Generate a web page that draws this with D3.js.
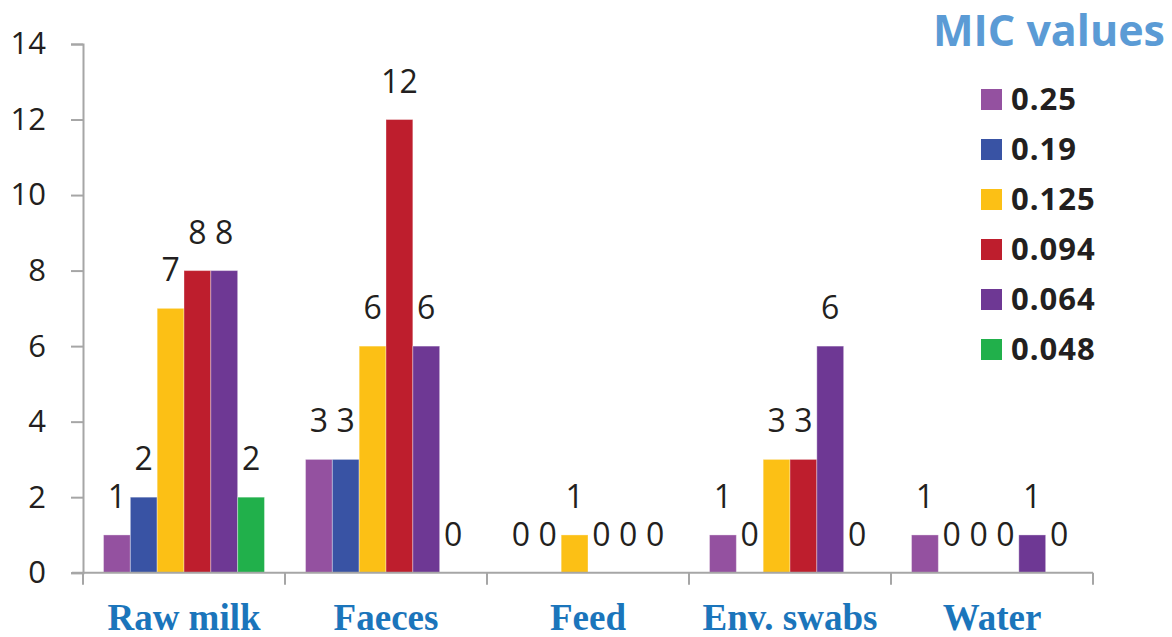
<!DOCTYPE html>
<html>
<head>
<meta charset="utf-8">
<script src="https://cdn.jsdelivr.net/npm/d3@7"></script>
<style>
  html, body { margin: 0; padding: 0; background: #fff; }
  svg { display: block; }
</style>
</head>
<body>
<script>
const categories = ["Raw milk", "Faeces", "Feed", "Env. swabs", "Water"];
const micValues = ["0.25", "0.19", "0.125", "0.094", "0.064", "0.048"];
const colors = ["#9451a0", "#3953a4", "#fcc015", "#be1e2d", "#6e3894", "#21b04b"];
// counts per category, in the order of micValues
const rawMilk   = [1, 2, 7, 8, 8, 2];
const faeces    = [3, 3, 6, 12, 6, 0];
const feed      = [0, 0, 1, 0, 0, 0];
const envSwabs  = [1, 0, 3, 3, 6, 0];
const water     = [1, 0, 0, 0, 1, 0];
const yTicks = [0, 2, 4, 6, 8, 10, 12, 14];

const seriesByCategory = [rawMilk, faeces, feed, envSwabs, water];

const W = 1172, H = 637;
const svg = d3.select("body").append("svg").attr("width", W).attr("height", H);

const x0 = d3.scaleBand().domain(categories).range([83, 1093]).paddingInner(0).paddingOuter(0);
const x1 = d3.scaleBand().domain(micValues).range([0, x0.bandwidth()]).paddingOuter(0.765);
const y = d3.scaleLinear().domain([0, 14]).range([572.7, 44]);

const axisColor = "#a6a6a6";
const numFont = "'Open Sans', 'Noto Sans', sans-serif";

// Y axis
const yAxis = svg.append("g").attr("transform", "translate(83,0)")
  .call(d3.axisLeft(y).tickValues(yTicks).tickSize(12).tickPadding(25));
yAxis.select(".domain").attr("stroke", axisColor).attr("stroke-width", 2);
yAxis.selectAll(".tick line").attr("stroke", axisColor).attr("stroke-width", 2);
yAxis.selectAll(".tick text")
  .attr("fill", "#231f20").attr("font-family", numFont).attr("font-size", 31);

// bars
const groups = svg.append("g").selectAll("g")
  .data(categories).join("g")
  .attr("transform", d => `translate(${x0(d)},0)`);

groups.selectAll("rect")
  .data((d, i) => seriesByCategory[i].map((v, j) => ({ mic: micValues[j], v, c: colors[j] })))
  .join("rect")
  .attr("x", d => x1(d.mic))
  .attr("width", x1.bandwidth())
  .attr("y", d => y(d.v))
  .attr("height", d => y(0) - y(d.v))
  .attr("fill", d => d.c)
  .attr("stroke", "rgba(255,255,255,0.35)")
  .attr("stroke-width", 1);

groups.selectAll("text")
  .data((d, i) => seriesByCategory[i].map((v, j) => ({ mic: micValues[j], v })))
  .join("text")
  .attr("x", d => x1(d.mic) + x1.bandwidth() / 2)
  .attr("y", d => y(d.v) - 27)
  .attr("text-anchor", "middle")
  .attr("font-family", numFont)
  .attr("font-size", 32)
  .attr("fill", "#231f20")
  .text(d => d.v);

// X axis
const xAxis = svg.append("g").attr("transform", `translate(0,${y(0)})`)
  .call(d3.axisBottom(x0).tickValues([]).tickSizeOuter(0));
xAxis.select(".domain").attr("stroke", axisColor).attr("stroke-width", 2)
  .attr("d", `M72,0H1093`);
// category separator ticks
xAxis.selectAll("line.sep")
  .data(d3.range(categories.length + 1))
  .join("line").attr("class", "sep")
  .attr("x1", i => 83 + i * x0.step()).attr("x2", i => 83 + i * x0.step())
  .attr("y1", 0).attr("y2", 12)
  .attr("stroke", axisColor).attr("stroke-width", 2);

svg.append("g").selectAll("text")
  .data(categories).join("text")
  .attr("x", d => x0(d) + x0.bandwidth() / 2)
  .attr("y", 630)
  .attr("text-anchor", "middle")
  .attr("font-family", "'Liberation Serif', 'Times New Roman', serif")
  .attr("font-weight", "bold")
  .attr("font-size", 37)
  .attr("fill", "#1b75bb")
  .text(d => d);

// Legend
svg.append("text")
  .attr("x", 1165).attr("y", 46)
  .attr("text-anchor", "end")
  .attr("font-family", numFont)
  .attr("font-weight", "bold")
  .attr("font-size", 43)
  .attr("fill", "#5b9bd5")
  .text("MIC values");

const leg = svg.append("g").selectAll("g")
  .data(micValues).join("g")
  .attr("transform", (d, i) => `translate(981,${89 + i * 50})`);
leg.append("rect").attr("width", 21).attr("height", 21)
  .attr("fill", (d, i) => colors[i]);
leg.append("text")
  .attr("x", 30).attr("y", 21)
  .attr("font-family", numFont)
  .attr("font-weight", "bold")
  .attr("font-size", 31)
  .attr("letter-spacing", 1)
  .attr("fill", "#231f20")
  .text(d => d);
</script>
</body>
</html>
